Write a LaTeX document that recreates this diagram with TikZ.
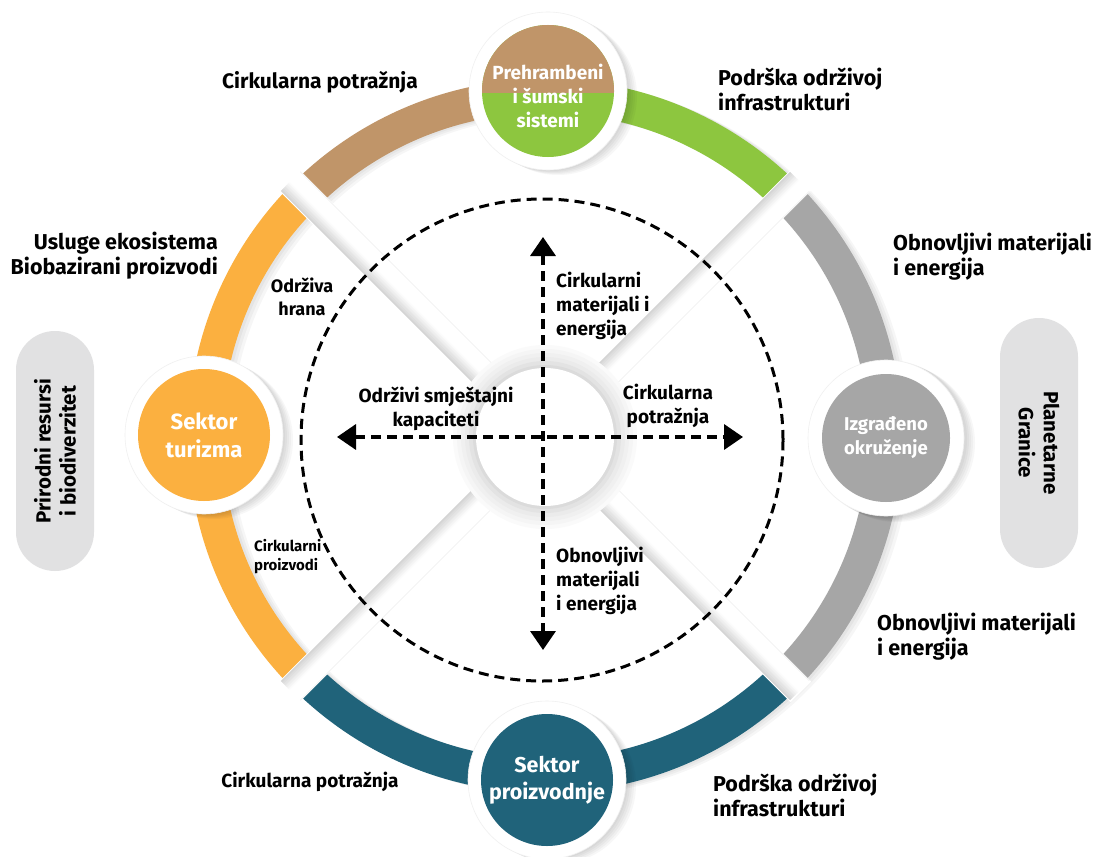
\documentclass[tikz,border=0pt]{standalone}
\usepackage{fontspec}
\setmainfont{Fira Sans}
\usetikzlibrary{arrows.meta}
\definecolor{cbrown}{RGB}{192,149,105}
\definecolor{cgreen}{RGB}{141,198,63}
\definecolor{cgray}{RGB}{166,166,166}
\definecolor{corange}{RGB}{251,176,64}
\definecolor{cteal}{RGB}{32,99,122}
\definecolor{cpill}{RGB}{225,225,226}
\begin{document}
\begin{tikzpicture}[x=1pt,y=1pt,
  lbl/.style={inner sep=0pt, font=\fontsize{21.5}{25}\selectfont\bfseries, text=black},
  ilbl/.style={inner sep=0pt, font=\fontsize{19}{24}\selectfont\bfseries, text=black},
  wlbl/.style={inner sep=0pt, text=white, align=center},
  whitedisk/.style={circle, fill=white, draw=black!6, line width=0.6pt, minimum size=158pt, inner sep=0pt},
  coldisk/.style={circle, minimum size=132pt, inner sep=0pt},
  pill/.style={fill=cpill, rounded corners=39pt, minimum width=78pt, inner sep=0pt},
  dashline/.style={line width=3.6pt, dash pattern=on 10pt off 6pt},
  tip/.style={{Triangle[length=19pt,width=25pt]}-{Triangle[length=19pt,width=25pt]}}
]
\useasboundingbox (0,0) rectangle (1094,-856);
\fill[white] (0,0) rectangle (1094,-856);
\coordinate (C) at (545,-436);

% soft shadows of the ring
\foreach \a/\b in {90/135,135/225,225/315,315/405,45/90}{
  \foreach \o in {3,6,9}{
    \draw[black, opacity=0.035, line width=34pt] ([shift={(\o,-\o/3)}]C) ++(\a:340) arc[start angle=\a,end angle=\b,radius=340];
  }
}
% coloured ring
\foreach \a/\b/\c in {90/135/cbrown,135/225/corange,225/315/cteal,315/405/cgray,45/90/cgreen}{
  \draw[\c, line width=34pt] (C) ++(\a:340) arc[start angle=\a,end angle=\b,radius=340];
}
% diagonal strips
\foreach \t/\s in {45/1,135/1,225/-1,315/-1}{
  \begin{scope}[shift={(C)},rotate=\t]
    \fill[white] (30,-14.5) -- (362,-14.5) -- (362,14.5) -- (30,14.5) -- cycle;
    \foreach \k in {0,...,11}{
      \pgfmathsetmacro\sh{17-1.4*\k}
      \fill[black!\sh] (30,{\s*(13.5-\k)}) -- (360,{\s*(13.5-\k)}) -- (360,{\s*(12.3-\k)}) -- (30,{\s*(12.3-\k)}) -- cycle;
    }
    \draw[black!7, line width=0.5pt] (30,{-\s*13.8}) -- (360,{-\s*13.8});
  \end{scope}
}
% centre halo and core
\coordinate (K) at (545,-437);
\foreach \r/\g in {92/2,88/4,84/6,80/8,76/11,72/14}{
  \fill[black!\g] (K) circle[radius=\r];
}
\node[circle, fill=white, minimum size=138pt, inner sep=0pt] (core) at (K) {};

% dashed circle
\node[circle, draw=black, line width=3pt, dash pattern=on 10pt off 6pt, minimum size=482pt, inner sep=0pt] (dc) at (542,-440) {};

% arrows
\coordinate (aL) at (337,-437);
\coordinate (aR) at (743,-437);
\coordinate (aT) at (543,-237);
\coordinate (aB) at (543,-650);
\draw[dashline, tip] (aL) -- (aR);
\draw[dashline, tip] (aT) -- (aB);

% node positions
\coordinate (pT) at (548,-91);
\coordinate (pL) at (204,-435);
\coordinate (pR) at (886,-438);
\coordinate (pB) at (547,-780);
\foreach \p in {pT,pL,pR,pB}{
  \foreach \o in {2,4,6,8,10}{
    \fill[black, opacity=0.03] ([shift={(\o,-\o/2)}]\p) circle[radius=79];
  }
}
% top node
\node[whitedisk] (nT) at (pT) {};
\node[coldisk, fill=cgreen] (nTc) at (pT) {};
\begin{scope}
  \clip (pT) circle[radius=66];
  \fill[cbrown] ([shift={(-80,-2)}]pT) rectangle ([shift={(80,80)}]pT);
\end{scope}
\node[wlbl, font=\fontsize{19}{24}\selectfont\bfseries] (tT) at ([shift={(0,-5)}]pT) {Prehrambeni\\i šumski\\sistemi};
% left node
\node[whitedisk] (nL) at (pL) {};
\node[coldisk, fill=corange] (nLc) at (pL) {};
\node[wlbl, font=\fontsize{22}{28}\selectfont\bfseries] (tL) at (pL) {Sektor\\turizma};
% right node
\node[whitedisk, minimum size=156pt] (nR) at (pR) {};
\node[coldisk, fill=cgray, minimum size=128pt] (nRc) at (pR) {};
\node[wlbl, font=\fontsize{18.5}{24}\selectfont\bfseries] (tR) at (pR) {Izgrađeno\\okruženje};
% bottom node
\node[whitedisk] (nB) at (pB) {};
\node[coldisk, fill=cteal] (nBc) at (pB) {};
\node[wlbl, font=\fontsize{21.5}{27}\selectfont\bfseries] (tB) at (pB) {Sektor\\proizvodnje};

% side pills
\node[pill, minimum height=240pt] (pillL) at (55,-451) {};
\node[lbl, font=\fontsize{20.5}{25}\selectfont\bfseries, rotate=90, align=center] (tpL) at (pillL) {Prirodni resursi\\i biodiverzitet};
\node[pill, minimum height=250pt] (pillR) at (1039,-443) {};
\node[lbl, font=\fontsize{20.5}{25}\selectfont\bfseries, rotate=-90, align=center] (tpR) at (pillR) {Planetarne\\Granice};

% outer labels
\node[lbl, font=\fontsize{21}{25}\selectfont\bfseries] (l1) at (320,-82) {Cirkularna potražnja};
\node[lbl, anchor=west, align=left] (l2) at (718,-89) {Podrška održivoj\\infrastrukturi};
\node[lbl, anchor=east, align=right] (l3) at (218,-256) {Usluge ekosistema\\Biobazirani proizvodi};
\node[lbl, anchor=west, align=left] (l5) at (893,-257) {Obnovljivi materijali\\i energija};
\node[lbl, font=\fontsize{19}{25}\selectfont\bfseries] (l11) at (310,-782) {Cirkularna potražnja};
\node[lbl, anchor=west, align=left] (l12) at (713,-795) {Podrška održivoj\\infrastrukturi};
\node[lbl, anchor=west, align=left] (l13) at (877,-637) {Obnovljivi materijali\\i energija};
% inner labels
\node[ilbl, font=\fontsize{18}{23}\selectfont\bfseries, align=center] (l4) at (302,-297) {Održiva\\hrana};
\node[ilbl, anchor=west, align=left] (l6) at (556,-306) {Cirkularni\\materijali i\\energija};
\node[ilbl, align=center] (l7) at (436,-409) {Održivi smještajni\\kapaciteti};
\node[ilbl, align=center] (l8) at (668,-406) {Cirkularna\\potražnja};
\node[ilbl, anchor=west, align=left] (l9) at (556,-581) {Obnovljivi\\materijali\\i energija};
\node[ilbl, font=\fontsize{15}{19}\selectfont\bfseries, anchor=west, align=left] (l10) at (254,-557) {Cirkularni\\proizvodi};
\end{tikzpicture}
\end{document}
